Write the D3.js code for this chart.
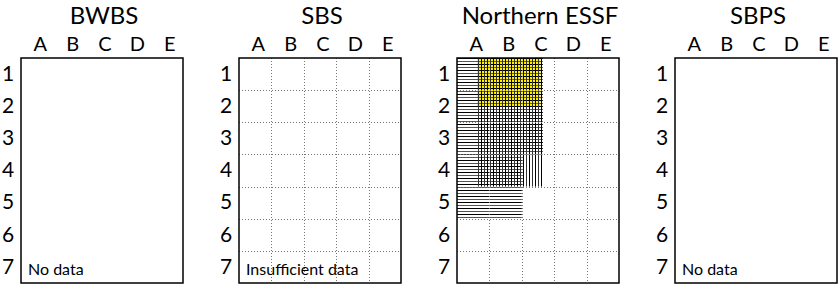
<!DOCTYPE html>
<html>
<head>
<meta charset="utf-8">
<script src="https://cdn.jsdelivr.net/npm/d3@7"></script>
<style>
  body { margin: 0; background: #fff; }
  svg text { font-family: Lato, "Open Sans", sans-serif; fill: #000; }
</style>
</head>
<body>
<svg id="chart" width="839" height="288"></svg>
<script>
// edatopic grids, one per zone
var zones = ["BWBS", "SBS", "Northern ESSF", "SBPS"];
var nutrients = ["A", "B", "C", "D", "E"];
var moisture = ["1", "2", "3", "4", "5", "6", "7"];
var showGrid = [false, true, true, false];
var notes = ["No data", "Insufficient data", "", "No data"];

// ranges in grid units (nutrient 0-5 across, moisture 0-7 down)
var horizRanges = [
  { zone: "Northern ESSF", n0: 0, n1: 2.65, m0: 0, m1: 3 },
  { zone: "Northern ESSF", n0: 0, n1: 2, m0: 3, m1: 5 }
];
var vertRanges = [
  { zone: "Northern ESSF", n0: 0.62, n1: 2.65, m0: 0, m1: 4 }
];
var highlightRanges = [
  { zone: "Northern ESSF", n0: 0.62, n1: 2.58, m0: 0, m1: 1.5 }
];

var svg = d3.select("#chart"),
  gridTop = 58,
  panelW = 162,
  panelH = 225;

var px = d3.scalePoint().domain(zones).range([21, 675]);
var x = d3.scaleLinear().domain([0, nutrients.length]).range([0, panelW]);
var y = d3.scaleLinear().domain([0, moisture.length]).range([0, panelH]);
var xb = d3.scaleBand().domain(nutrients).range([0, panelW]);
var yb = d3.scaleBand().domain(moisture).range([0, panelH]);

var defs = svg.append("defs");
var hp = defs.append("pattern").attr("id", "hatchH")
  .attr("patternUnits", "userSpaceOnUse").attr("width", 6).attr("height", 6);
hp.append("line").attr("x1", 0).attr("x2", 6).attr("y1", 0.5).attr("y2", 0.5)
  .attr("stroke", "#000").attr("stroke-width", 1);
hp.append("line").attr("x1", 0).attr("x2", 6).attr("y1", 3.5).attr("y2", 3.5)
  .attr("stroke", "#555").attr("stroke-width", 1);
var vp = defs.append("pattern").attr("id", "hatchV")
  .attr("patternUnits", "userSpaceOnUse").attr("width", 6).attr("height", 6);
vp.append("line").attr("y1", 0).attr("y2", 6).attr("x1", 0.5).attr("x2", 0.5)
  .attr("stroke", "#000").attr("stroke-width", 1);
vp.append("line").attr("y1", 0).attr("y2", 6).attr("x1", 3.5).attr("x2", 3.5)
  .attr("stroke", "#333").attr("stroke-width", 1);

zones.forEach(function (z, i) {
  var g = svg.append("g")
    .attr("transform", "translate(" + px(z) + "," + gridTop + ")");

  g.append("text")
    .attr("x", panelW / 2 + 2)
    .attr("y", -34)
    .attr("text-anchor", "middle")
    .style("font-size", "24px")
    .text(z);

  var ax = g.append("g")
    .attr("transform", "translate(3,-7)")
    .call(d3.axisTop(xb).tickSize(0).tickPadding(0));
  ax.select(".domain").remove();
  ax.selectAll("text").style("font-size", "20px")
    .style("font-family", "Lato, 'Open Sans', sans-serif");

  var ay = g.append("g")
    .attr("transform", "translate(-8,0)")
    .call(d3.axisLeft(yb).tickSize(0).tickPadding(0));
  ay.select(".domain").remove();
  ay.selectAll("text").style("font-size", "21px")
    .attr("text-anchor", "middle").attr("x", -5)
    .style("font-family", "Lato, 'Open Sans', sans-serif");

  function inZone(d) { return d.zone === z; }

  g.selectAll(".hl")
    .data(highlightRanges.filter(inZone))
    .enter().append("rect")
    .attr("class", "hl")
    .attr("x", function (d) { return x(d.n0); })
    .attr("y", function (d) { return y(d.m0); })
    .attr("width", function (d) { return x(d.n1) - x(d.n0); })
    .attr("height", function (d) { return y(d.m1) - y(d.m0); })
    .attr("fill", "#fff200");

  g.selectAll(".hz")
    .data(horizRanges.filter(inZone))
    .enter().append("rect")
    .attr("class", "hz")
    .attr("x", function (d) { return x(d.n0); })
    .attr("y", function (d) { return y(d.m0); })
    .attr("width", function (d) { return x(d.n1) - x(d.n0); })
    .attr("height", function (d) { return y(d.m1) - y(d.m0); })
    .attr("fill", "url(#hatchH)");

  g.selectAll(".vt")
    .data(vertRanges.filter(inZone))
    .enter().append("rect")
    .attr("class", "vt")
    .attr("x", function (d) { return x(d.n0); })
    .attr("y", function (d) { return y(d.m0); })
    .attr("width", function (d) { return x(d.n1) - x(d.n0); })
    .attr("height", function (d) { return y(d.m1) - y(d.m0); })
    .attr("fill", "url(#hatchV)");

  if (showGrid[i]) {
    g.selectAll(".gx")
      .data(d3.range(1, nutrients.length))
      .enter().append("line")
      .attr("x1", function (d) { return Math.round(x(d)) + 0.5; })
      .attr("x2", function (d) { return Math.round(x(d)) + 0.5; })
      .attr("y1", 0).attr("y2", panelH)
      .attr("stroke", "#777").attr("stroke-dasharray", "1,2");
    g.selectAll(".gy")
      .data(d3.range(1, moisture.length))
      .enter().append("line")
      .attr("y1", function (d) { return Math.round(y(d)) + 0.5; })
      .attr("y2", function (d) { return Math.round(y(d)) + 0.5; })
      .attr("x1", 0).attr("x2", panelW)
      .attr("stroke", "#777").attr("stroke-dasharray", "1,2");
  }

  g.append("rect")
    .attr("x", 0).attr("y", 0)
    .attr("width", panelW).attr("height", panelH)
    .attr("fill", "none").attr("stroke", "#000").attr("stroke-width", 1.5);

  if (notes[i]) {
    g.append("text")
      .attr("x", 7)
      .attr("y", panelH - 8)
      .style("font-size", "16px")
      .text(notes[i]);
  }
});
</script>
</body>
</html>
